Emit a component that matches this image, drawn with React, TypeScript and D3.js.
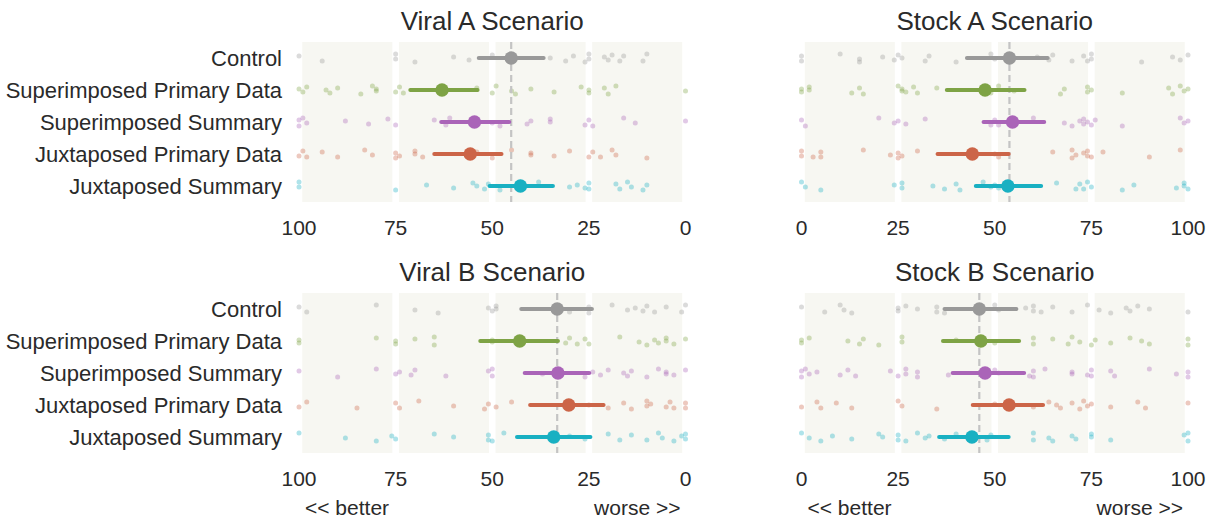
import React from 'react';
import * as d3 from 'd3';

// conditions (rows) and their colours
const CONDITIONS = ['Control', 'Superimposed Primary Data', 'Superimposed Summary', 'Juxtaposed Primary Data', 'Juxtaposed Summary'];
const COLORS = ['#999999', '#7ea345', '#aa64b8', '#cc6548', '#19b0c2'];

const SCENARIOS = ['Viral A Scenario', 'Stock A Scenario', 'Viral B Scenario', 'Stock B Scenario'];
const REVERSED = [true, false, true, false]; // viral panels run 100 -> 0
const X_TICKS = [0, 25, 50, 75, 100];
const QUARTERS = [0, 25, 50, 75];

// mean estimate and CI per condition
const MEAN_VIRAL_A = [45.1, 63.0, 54.6, 55.7, 42.7];
const LOW_VIRAL_A = [36.7, 53.8, 45.6, 47.6, 34.3];
const HIGH_VIRAL_A = [53.5, 71.2, 63.2, 65.0, 50.7];

const MEAN_STOCK_A = [53.8, 47.5, 54.6, 44.2, 53.4];
const LOW_STOCK_A = [42.8, 37.6, 47.1, 35.2, 45.1];
const HIGH_STOCK_A = [63.7, 57.7, 62.8, 53.6, 62.0];

const MEAN_VIRAL_B = [33.2, 42.9, 33.0, 30.2, 34.1];
const LOW_VIRAL_B = [24.2, 33.0, 24.9, 21.2, 24.6];
const HIGH_VIRAL_B = [42.5, 53.1, 41.6, 40.2, 43.6];

const MEAN_STOCK_B = [46.0, 46.4, 47.5, 53.7, 44.1];
const LOW_STOCK_B = [37.0, 36.6, 39.1, 44.3, 35.6];
const HIGH_STOCK_B = [55.6, 56.3, 57.6, 62.5, 53.6];

// individual responses per condition
const DOTS_VIRAL_A = [
  [100, 94, 75, 75, 70, 60, 56, 50, 35, 31, 29, 26, 25, 25, 21, 20, 19, 17, 16, 11, 10],
  [100, 99, 98, 93, 92, 90, 84, 81, 80, 80, 75, 74, 73, 54, 50, 49, 45, 44, 40, 34, 27, 25, 25, 21, 20, 18, 0],
  [100, 100, 99, 98, 88, 82, 77, 75, 65, 62, 61, 50, 48, 40, 41, 35, 35, 26, 25, 24, 16, 13, 0],
  [100, 99, 98, 94, 90, 83, 81, 75, 75, 74, 70, 70, 68, 54, 50, 45, 40, 40, 34, 30, 25, 24, 22, 19, 18, 10],
  [100, 100, 75, 67, 60, 55, 54, 52, 51, 48, 38, 30, 28, 26, 25, 25, 18, 17, 15, 14, 11, 10],
];
const DOTS_STOCK_A = [
  [0, 0, 10, 15, 15, 21, 24, 25, 26, 32, 33, 40, 49, 50, 61, 64, 65, 70, 73, 74, 75, 75, 88, 96, 98, 100],
  [0, 0, 2, 2, 13, 15, 16, 25, 26, 26, 27, 29, 30, 35, 49, 51, 55, 67, 68, 74, 74, 75, 83, 95, 96, 98, 99, 100],
  [0, 1, 20, 24, 25, 27, 32, 49, 50, 51, 60, 68, 70, 72, 73, 73, 74, 75, 76, 83, 98, 99, 100],
  [0, 0, 3, 5, 5, 16, 23, 25, 25, 26, 30, 50, 51, 65, 70, 70, 71, 73, 74, 74, 75, 78, 90, 98],
  [0, 1, 5, 24, 26, 26, 34, 37, 40, 41, 47, 49, 50, 51, 66, 71, 72, 73, 74, 75, 83, 86, 97, 99, 99, 100],
];
const DOTS_VIRAL_B = [
  [100, 98, 80, 70, 64, 51, 50, 49, 49, 30, 25, 25, 19, 15, 13, 11, 10, 8, 5, 1, 0],
  [100, 100, 80, 75, 75, 70, 65, 65, 50, 50, 31, 30, 28, 26, 25, 17, 12, 10, 8, 7, 5, 5, 3, 0],
  [100, 90, 80, 75, 74, 71, 70, 62, 51, 50, 50, 37, 26, 24, 22, 20, 16, 15, 14, 10, 7, 5, 5, 3, 0],
  [100, 98, 85, 75, 74, 69, 60, 52, 51, 49, 45, 25, 20, 16, 14, 10, 10, 9, 5, 4, 3, 0, 0],
  [100, 88, 80, 76, 75, 65, 60, 51, 51, 50, 47, 35, 30, 26, 20, 17, 14, 10, 7, 6, 3, 1, 0, 0],
];
const DOTS_STOCK_B = [
  [0, 6, 10, 11, 13, 25, 25, 27, 30, 35, 35, 37, 50, 51, 58, 60, 60, 62, 65, 70, 74, 77, 80, 84, 85, 87, 90, 100],
  [0, 0, 2, 12, 15, 16, 20, 26, 26, 40, 50, 60, 60, 65, 69, 70, 72, 75, 76, 80, 85, 88, 90, 100, 100],
  [0, 0, 1, 2, 4, 10, 12, 14, 23, 25, 27, 27, 30, 30, 38, 50, 51, 59, 60, 60, 63, 70, 70, 74, 75, 75, 80, 81, 90, 97, 100, 100],
  [0, 4, 5, 9, 13, 25, 26, 35, 50, 60, 64, 66, 67, 70, 72, 73, 74, 75, 80, 87, 89, 100],
  [0, 2, 5, 8, 13, 20, 21, 25, 25, 27, 30, 32, 33, 37, 40, 48, 49, 60, 60, 64, 65, 70, 71, 75, 75, 80, 99, 100, 100],
];

const MEANS = [MEAN_VIRAL_A, MEAN_STOCK_A, MEAN_VIRAL_B, MEAN_STOCK_B];
const LOWS = [LOW_VIRAL_A, LOW_STOCK_A, LOW_VIRAL_B, LOW_STOCK_B];
const HIGHS = [HIGH_VIRAL_A, HIGH_STOCK_A, HIGH_VIRAL_B, HIGH_STOCK_B];
const DOTS = [DOTS_VIRAL_A, DOTS_STOCK_A, DOTS_VIRAL_B, DOTS_STOCK_B];

// vertical strip jitter (visual only)
const JITTER = [-2, 3, -4, 1, 4, -1, 2, -3, 0, 3, -2, 4, -4, 1, -1, 2, -3, 3];

const W = 1215;
const H = 519;
const FONT = '"Liberation Sans", Arial, sans-serif';
const TEXT = '#2a2a2a';
const BAND_FILL = '#f7f7f2';

const Panel = ({ idx }: { idx: number }) => {
  const col = idx % 2;
  const row = Math.floor(idx / 2);
  const left = col === 0 ? 299 : 801.5;
  const right = left + 386.5;
  const top = row === 0 ? 42 : 293;

  const x = d3.scaleLinear()
    .domain(REVERSED[idx] ? [100, 0] : [0, 100])
    .range([left, right]);
  const y = d3.scaleBand<string>()
    .domain(CONDITIONS)
    .range([top, top + 160]);
  const cy = (c: string) => (y(c) ?? 0) + y.bandwidth() / 2;

  const ref = MEANS[idx][0];

  return (
    <g>
      {QUARTERS.map(q => {
        const a = x(q + 0.85), b = x(q + 24.15);
        return <rect key={q} x={Math.min(a, b)} y={top} width={Math.abs(b - a)} height={160} fill={BAND_FILL} />;
      })}
      {CONDITIONS.map((c, i) => (
        <g key={c}>
          {DOTS[idx][i].map((v, j) => (
            <circle key={j} cx={x(v)} cy={cy(c) + JITTER[(j + i * 5) % JITTER.length]} r={2.5}
              fill={COLORS[i]} fillOpacity={0.35} />
          ))}
        </g>
      ))}
      <line x1={x(ref)} x2={x(ref)} y1={top} y2={top + 160} stroke="#c4c4c4" strokeWidth={2.2} strokeDasharray="7,4" />
      {CONDITIONS.map((c, i) => (
        <g key={c}>
          <line x1={x(LOWS[idx][i])} x2={x(HIGHS[idx][i])} y1={cy(c)} y2={cy(c)}
            stroke={COLORS[i]} strokeWidth={4} strokeLinecap="round" />
          <circle cx={x(MEANS[idx][i])} cy={cy(c)} r={6.7} fill={COLORS[i]} />
        </g>
      ))}
      {X_TICKS.map(t => (
        <text key={t} x={x(t)} y={top + 193} textAnchor="middle" fontSize={21} fill={TEXT}>{t}</text>
      ))}
      <text x={(left + right) / 2} y={top - 12} textAnchor="middle" fontSize={26} fill={TEXT}>{SCENARIOS[idx]}</text>
      {col === 0 && CONDITIONS.map(c => (
        <text key={c} x={282} y={cy(c) + 7.8} textAnchor="end" fontSize={22} fill={TEXT}>{c}</text>
      ))}
      {row === 1 && (
        <g>
          <text x={left + 6} y={515} fontSize={21} fill={TEXT}>{'<< better'}</text>
          <text x={right - 5} y={515} textAnchor="end" fontSize={21} fill={TEXT}>{'worse >>'}</text>
        </g>
      )}
    </g>
  );
};

export default function App() {
  return (
    <svg width={W} height={H} style={{ position: 'absolute', left: 0, top: 0, background: '#fff' }}
      fontFamily={FONT}>
      {SCENARIOS.map((s, i) => <Panel key={s} idx={i} />)}
    </svg>
  );
}
